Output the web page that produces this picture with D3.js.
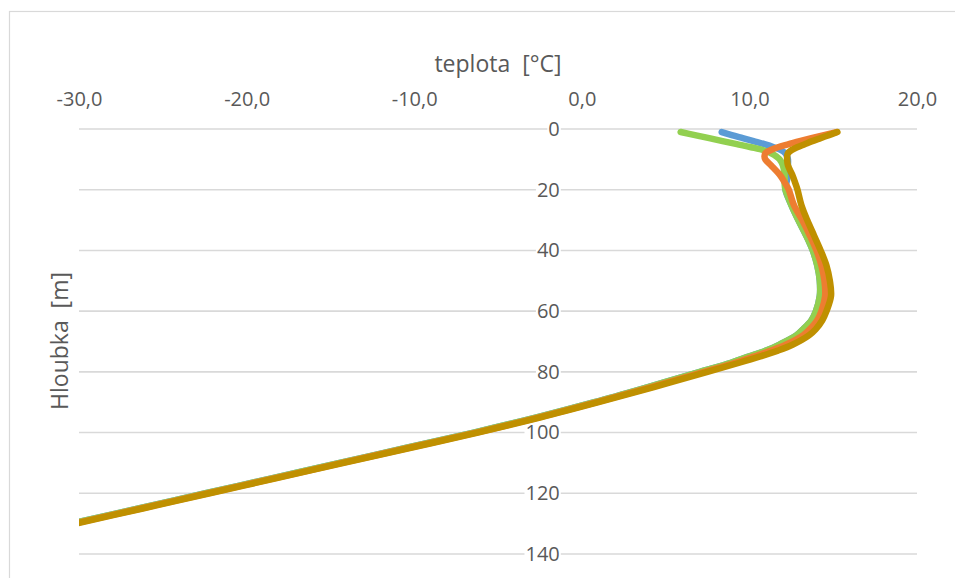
<!DOCTYPE html>
<html>
<head>
<meta charset="utf-8">
<script src="https://cdn.jsdelivr.net/npm/d3@7"></script>
<style>
  html, body { margin: 0; padding: 0; background: #ffffff; }
  svg { display: block; }
  text { font-family: "Open Sans", "Noto Sans", sans-serif; fill: #595959; white-space: pre; }
</style>
</head>
<body>
<svg id="chart" width="955" height="578"></svg>
<script>
// Depth profile (m) shared by all four temperature profiles
const depths = [1, 2, 3, 4, 5, 6, 7, 8, 9, 10,
                12, 15, 18, 20,
                25, 30, 35, 40, 45, 50, 55, 60,
                63, 66, 68, 71, 73, 75, 77, 80,
                85, 90, 95, 100, 105, 110, 115, 120, 125, 130];

// Temperatures (°C) for each profile, one value per depth
const tempBlue = [8.35, 8.95, 9.6, 10.25, 10.9, 11.45, 11.9, 12.15, 12.25, 12.3,
                  12.3, 12.3, 12.2, 12.15,
                  12.5, 12.92, 13.38, 13.78, 14.05, 14.2, 14.2, 13.97,
                  13.7, 13.2, 12.8, 11.8, 11.0, 9.95, 8.9, 7.05,
                  3.95, 0.75, -2.7, -6.45, -10.45, -14.45, -18.45, -22.45, -26.45, -30.45];

const tempGreen = [5.9, 6.75, 7.6, 8.4, 9.25, 10.1, 10.85, 11.3, 11.6, 11.8,
                   12.0, 12.1, 12.1, 12.15,
                   12.5, 12.92, 13.38, 13.78, 14.05, 14.2, 14.2, 13.97,
                   13.7, 13.2, 12.8, 11.8, 11.0, 9.95, 8.9, 7.05,
                   3.95, 0.75, -2.7, -6.45, -10.45, -14.45, -18.45, -22.45, -26.45, -30.45];

const tempOrange = [15.2, 14.45, 13.7, 13.0, 12.35, 11.7, 11.25, 10.95, 10.9, 10.95,
                    11.3, 11.8, 12.15, 12.35,
                    12.65, 13.15, 13.6, 14.0, 14.3, 14.48, 14.52, 14.3,
                    14.05, 13.6, 13.2, 12.2, 11.3, 10.25, 9.15, 7.3,
                    4.15, 0.9, -2.55, -6.3, -10.3, -14.3, -18.3, -22.3, -26.3, -30.3];

const tempGold = [15.25, 14.75, 14.25, 13.75, 13.3, 12.85, 12.5, 12.3, 12.25, 12.25,
                  12.3, 12.55, 12.75, 12.87,
                  13.1, 13.45, 13.85, 14.25, 14.6, 14.8, 14.87, 14.6,
                  14.35, 13.95, 13.55, 12.6, 11.7, 10.6, 9.4, 7.5,
                  4.3, 1.0, -2.45, -6.2, -10.2, -14.2, -18.2, -22.2, -26.2, -30.2];

// Drawing order: later profiles sit on top
const seriesNames  = ["blue", "green", "orange", "gold"];
const seriesTemps  = [tempBlue, tempGreen, tempOrange, tempGold];
const seriesColors = ["#5B9BD5", "#92D050", "#ED7D31", "#BF9000"];

// Axis ticks and titles
const xTicks = [-30, -20, -10, 0, 10, 20];
const yTicks = [0, 20, 40, 60, 80, 100, 120, 140];
const xTitle = "teplota  [°C]";
const yTitle = "Hloubka  [m]";

const svg = d3.select("#chart");
const W = 955, H = 578;

const plot = { left: 79, right: 917, top: 129, bottom: 554 };

const x = d3.scaleLinear().domain([-30, 20]).range([plot.left, plot.right]);
const y = d3.scaleLinear().domain([0, 140]).range([plot.top, plot.bottom]);

const cz = d3.formatLocale({
  decimal: ",", thousands: "\u00a0", grouping: [3],
  currency: ["", "\u00a0Kč"], minus: "-"
});
const fmtX = cz.format(".1f");

// Chart frame
svg.append("rect")
  .attr("x", 9.5).attr("y", 11.5)
  .attr("width", W + 20).attr("height", H + 20)
  .attr("fill", "#ffffff")
  .attr("stroke", "#d9d9d9").attr("stroke-width", 1.2);

// Horizontal gridlines
svg.append("g").attr("class", "grid")
  .selectAll("line").data(yTicks).join("line")
  .attr("x1", x(-30)).attr("x2", x(20))
  .attr("y1", d => y(d)).attr("y2", d => y(d))
  .attr("stroke", "#d9d9d9").attr("stroke-width", 1.6);

// Temperature axis labels along the top
const gx = svg.append("g")
  .attr("transform", "translate(0,106)")
  .call(d3.axisTop(x).tickValues(xTicks).tickFormat(fmtX).tickSize(0).tickPadding(0));
gx.select(".domain").remove();
gx.selectAll("text").attr("font-size", 20).attr("font-family", null).attr("fill", "#595959");

// Depth axis labels, right-aligned against the 0 °C position
const gy = svg.append("g")
  .attr("transform", `translate(${x(0) - 22},0)`)
  .call(d3.axisLeft(y).tickValues(yTicks).tickFormat(d3.format("d")).tickSize(0).tickPadding(0));
gy.select(".domain").remove();
gy.selectAll("text").attr("font-size", 20).attr("font-family", null).attr("fill", "#595959");
// white backing so gridlines break around the labels
gy.selectAll(".tick").each(function() {
  const t = d3.select(this).select("text");
  const b = t.node().getBBox();
  d3.select(this).insert("rect", "text")
    .attr("x", b.x - 1).attr("y", b.y)
    .attr("width", b.width + 2).attr("height", b.height)
    .attr("fill", "#ffffff");
});

// Axis titles
svg.append("text")
  .attr("x", 498).attr("y", 72)
  .attr("text-anchor", "middle")
  .attr("font-size", 23)
  .text(xTitle);

svg.append("text")
  .attr("transform", `translate(68,${341}) rotate(-90)`)
  .attr("text-anchor", "middle")
  .attr("font-size", 23)
  .text(yTitle);

// Clip the profiles to the plotting area
svg.append("clipPath").attr("id", "plotClip")
  .append("rect")
  .attr("x", plot.left).attr("y", plot.top - 10)
  .attr("width", plot.right - plot.left).attr("height", plot.bottom - plot.top + 10);

const line = d3.line()
  .x(d => x(d[1]))
  .y(d => y(d[0]))
  .curve(d3.curveCatmullRom.alpha(0.5));

svg.append("g").attr("clip-path", "url(#plotClip)")
  .selectAll("path")
  .data(seriesTemps.map((temps, i) => ({
    name: seriesNames[i], color: seriesColors[i],
    points: depths.map((dep, j) => [dep, temps[j]])
  })))
  .join("path")
  .attr("class", d => "profile " + d.name)
  .attr("d", d => line(d.points))
  .attr("fill", "none")
  .attr("stroke", d => d.color)
  .attr("stroke-width", 6.5)
  .attr("stroke-linecap", "round")
  .attr("stroke-linejoin", "round");
</script>
</body>
</html>
